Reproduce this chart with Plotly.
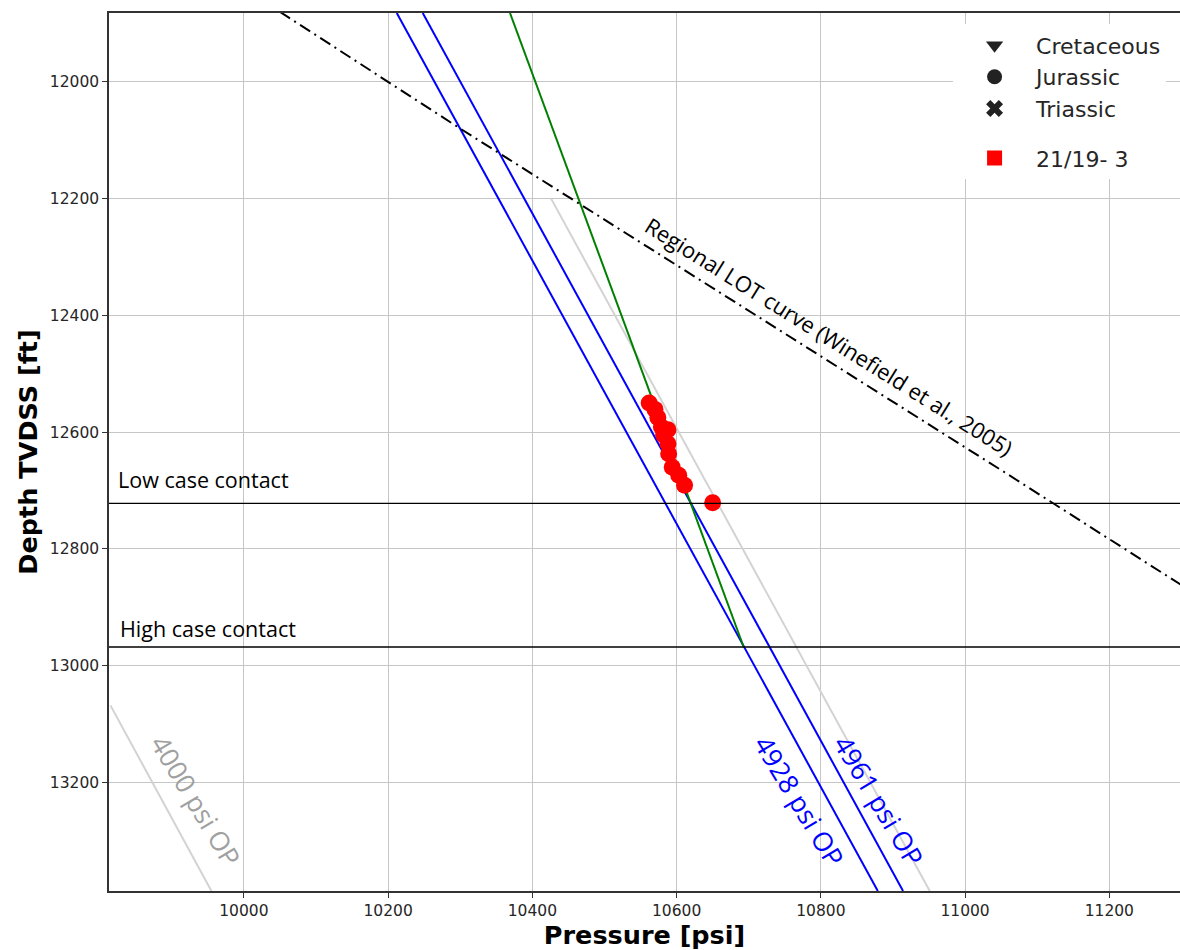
import plotly.graph_objects as go

# ---- data ----
pressure_ticks = [10000, 10200, 10400, 10600, 10800, 11000, 11200]
depth_ticks = [12000, 12200, 12400, 12600, 12800, 13000, 13200]

op4928_p = [10212, 10879]
op4928_d = [11882, 13386]
op4961_p = [10248, 10914]
op4961_d = [11882, 13386]
gray_p = [10426, 10951]
gray_d = [12200, 13386]
op4000_p = [9815, 9955]
op4000_d = [13068, 13386]
green_p = [10369, 10693]
green_d = [11882, 12968]
lot_p = [10050, 10300, 10550, 10800, 11050, 11300]
lot_d = [11880, 12080, 12275, 12470, 12665, 12862]

low_contact = 12722
high_contact = 12968

well_p = [10562, 10570, 10574, 10588, 10579, 10582, 10588, 10589, 10594, 10603, 10611, 10650]
well_d = [12550, 12561, 12575, 12596, 12591, 12605, 12620, 12637, 12660, 12674, 12691, 12721]

x_range = [9813, 11298]
y_range = [13386, 11882]

TXT = "Open Sans"

fig = go.Figure()

# lines
fig.add_trace(go.Scatter(x=op4000_p, y=op4000_d, mode="lines",
                         line=dict(color="#d3d3d3", width=2), showlegend=False))
fig.add_trace(go.Scatter(x=gray_p, y=gray_d, mode="lines",
                         line=dict(color="#d3d3d3", width=2), showlegend=False))
fig.add_trace(go.Scatter(x=op4928_p, y=op4928_d, mode="lines",
                         line=dict(color="#0000ff", width=2), showlegend=False))
fig.add_trace(go.Scatter(x=op4961_p, y=op4961_d, mode="lines",
                         line=dict(color="#0000ff", width=2), showlegend=False))
fig.add_trace(go.Scatter(x=green_p, y=green_d, mode="lines",
                         line=dict(color="#008000", width=2), showlegend=False))
fig.add_trace(go.Scatter(x=lot_p, y=lot_d, mode="lines",
                         line=dict(color="black", width=2, dash="12px,5px,2px,5px"),
                         showlegend=False))

# contacts
for d in (low_contact, high_contact):
    fig.add_shape(type="line", xref="paper", x0=0, x1=1, yref="y", y0=d, y1=d,
                  line=dict(color="black", width=1.3))

# well data
fig.add_trace(go.Scatter(x=well_p, y=well_d, mode="markers",
                         marker=dict(color="red", size=17, symbol="circle"),
                         showlegend=False, cliponaxis=False))

# legend entries
leg_font = dict(family="DejaVu Sans", size=22, color="#262626")
for name, sym in [("Cretaceous", "triangle-down"), ("Jurassic", "circle"), ("Triassic", "x")]:
    fig.add_trace(go.Scatter(x=[None], y=[None], mode="markers", name=name,
                             marker=dict(color="#222222", size=15, symbol=sym),
                             legendgroup="g1"))
fig.add_trace(go.Scatter(x=[None], y=[None], mode="markers", name="21/19- 3",
                         marker=dict(color="red", size=15, symbol="square"),
                         legendgroup="g2"))

# annotations
fig.add_annotation(x=9823, y=12681, text="Low case contact", showarrow=False,
                   xanchor="left", yanchor="middle", font=dict(family=TXT, size=21.5, color="black"))
fig.add_annotation(x=9826, y=12937, text="High case contact", showarrow=False,
                   xanchor="left", yanchor="middle", font=dict(family=TXT, size=21.5, color="black"))
fig.add_annotation(x=10811, y=12436, text="Regional LOT curve (Winefield et al., 2005)",
                   showarrow=False, textangle=32, xanchor="center", yanchor="middle",
                   font=dict(family=TXT, size=22, color="black"))
fig.add_annotation(x=9934, y=13231, text="4000 psi OP", showarrow=False, textangle=59,
                   xanchor="center", yanchor="middle", font=dict(family=TXT, size=26.5, color="#a0a0a0"))
fig.add_annotation(x=10770, y=13232, text="4928 psi OP", showarrow=False, textangle=59,
                   xanchor="center", yanchor="middle", font=dict(family=TXT, size=26.5, color="#0000ff"))
fig.add_annotation(x=10881, y=13231, text="4961 psi OP", showarrow=False, textangle=59,
                   xanchor="center", yanchor="middle", font=dict(family=TXT, size=26.5, color="#0000ff"))

axis_common = dict(showgrid=True, gridcolor="#c6c6c6", gridwidth=1,
                   showline=True, linecolor="#333333", linewidth=1.5,
                   ticks="outside", ticklen=5, tickcolor="#333333", tickwidth=1,
                   zeroline=False,
                   tickfont=dict(family="DejaVu Sans", size=15.5, color="#262626"))

fig.update_xaxes(range=x_range, tickvals=pressure_ticks, tickformat="d", mirror=True,
                 title=dict(text="<b>Pressure [psi]</b>", standoff=5,
                            font=dict(family="DejaVu Sans", size=25.5, color="black")),
                 **axis_common)
fig.update_yaxes(range=y_range, tickvals=depth_ticks, tickformat="d", mirror=False,
                 title=dict(text="<b>Depth TVDSS [ft]</b>", standoff=5,
                            font=dict(family="DejaVu Sans", size=25.5, color="black")),
                 **axis_common)

fig.update_layout(
    width=1180, height=950,
    margin=dict(l=109, r=0, t=13, b=59),
    plot_bgcolor="white", paper_bgcolor="white",
    legend=dict(x=0.987, xanchor="right", y=0.987, yanchor="top",
                bgcolor="white", font=leg_font, tracegroupgap=18,
                itemwidth=73),
    showlegend=True,
)

fig.write_html("out.html")
